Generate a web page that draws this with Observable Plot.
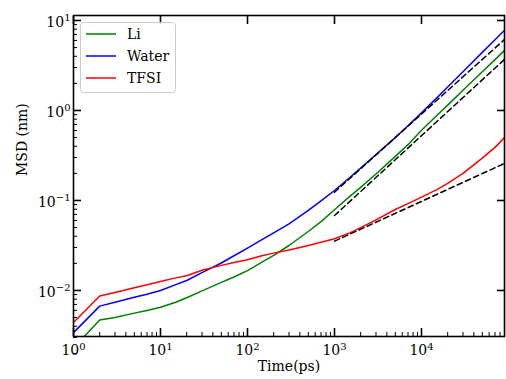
<!DOCTYPE html>
<html><head><meta charset="utf-8">
<script src="https://cdn.jsdelivr.net/npm/d3@7"></script>
<script src="https://cdn.jsdelivr.net/npm/@observablehq/plot@0.6"></script>
<style>body{margin:0;background:#fff;} #chart{width:506px;height:379px;}</style>
</head><body><div id="chart"></div>
<script>
// ---- data ----
const times = [1,2,3,5,7,10,15,20,30,50,70,100,150,200,300,500,700,1000,1500,2000,3000,5000,7000,10000,15000,20000,30000,50000,70000,90000];
const li    = [0.0023,0.0047,0.0050,0.0056,0.0060,0.0065,0.0074,0.0083,0.0099,0.0123,0.0141,0.0166,0.0209,0.0245,0.0316,0.0452,0.0582,0.079,0.111,0.140,0.197,0.309,0.417,0.603,0.881,1.148,1.679,2.69,3.67,4.65];
const water = [0.0034,0.0067,0.0074,0.0084,0.0091,0.0100,0.0116,0.0129,0.0158,0.0202,0.0243,0.0295,0.0372,0.0437,0.055,0.0776,0.099,0.129,0.18,0.229,0.324,0.50,0.676,0.94,1.38,1.82,2.69,4.42,6.1,7.8];
const tfsi  = [0.0044,0.0087,0.0095,0.0107,0.0116,0.0126,0.0138,0.0146,0.0168,0.0190,0.0204,0.0219,0.0245,0.026,0.0282,0.0316,0.0343,0.0376,0.0437,0.050,0.061,0.0794,0.0923,0.109,0.132,0.155,0.20,0.295,0.389,0.50];
const fitTimes = [1000, 90000];
const liFit    = [0.068, 3.69];
const waterFit = [0.1236, 6.15];
const tfsiFit  = [0.0353, 0.258];
const seriesNames = ["Li", "Water", "TFSI"];
const xMajorTicks = [1, 10, 100, 1000, 10000];
const yMajorTicks = [0.01, 0.1, 1, 10];
const xTitle = "Time(ps)";
const yTitle = "MSD (nm)";

// ---- build tables ----
const seriesVals = [li, water, tfsi];
const fitVals = [liFit, waterFit, tfsiFit];
const rows = [], fitRows = [];
seriesNames.forEach((s, i) => {
  times.forEach((t, j) => rows.push({t, v: seriesVals[i][j], s}));
  fitTimes.forEach((t, j) => fitRows.push({t, v: fitVals[i][j], s}));
});
const xMinor = [];
for (const d of [1, 10, 100, 1000, 10000]) for (let k = 2; k <= 9; k++) xMinor.push(k * d);
const yMinor = [];
for (const d of [0.001, 0.01, 0.1, 1]) for (let k = 2; k <= 9; k++) yMinor.push(+(k * d).toPrecision(3));
const colors = ["green", "blue", "red"];
const supFmt = d => "10^" + Math.round(Math.log10(d));

const FONT = "'DejaVu Serif', serif";
const plot = Plot.plot({
  width: 506, height: 379,
  marginLeft: 73, marginRight: 2, marginTop: 15, marginBottom: 43,
  style: {fontFamily: FONT, fontSize: "14px", background: "white", color: "black"},
  x: {type: "log", domain: [1, 90000], label: null},
  y: {type: "log", domain: [0.00308, 11.36], label: null},
  color: {domain: seriesNames, range: colors},
  marks: [
    Plot.line(rows, {x: "t", y: "v", z: "s", stroke: "s", strokeWidth: 1.5, clip: true}),
    Plot.line(fitRows, {x: "t", y: "v", z: "s", stroke: "black", strokeWidth: 1.5, strokeDasharray: "5.5,3.5", clip: true}),
    Plot.axisX(xMinor.filter(v => v <= 90000), {anchor: "bottom", tickSize: -4, strokeWidth: 1, fill: "none", label: null}),
    Plot.axisX(xMajorTicks, {anchor: "bottom", tickSize: -8, strokeWidth: 1.6, fill: "none", label: null}),
    Plot.axisX(xMajorTicks, {anchor: "top", tickSize: -8, strokeWidth: 1.6, fill: "none", label: null}),
    Plot.axisX(xMajorTicks, {anchor: "bottom", tickSize: 0, tickPadding: 9, fontSize: 14, tickFormat: supFmt, label: null}),
    Plot.axisY(yMinor, {anchor: "left", tickSize: -4, strokeWidth: 1, fill: "none", label: null}),
    Plot.axisY(yMajorTicks, {anchor: "left", tickSize: -8, strokeWidth: 1.6, fill: "none", label: null}),
    Plot.axisY(yMajorTicks, {anchor: "right", tickSize: -8, strokeWidth: 1.6, fill: "none", label: null}),
    Plot.axisY(yMajorTicks, {anchor: "left", tickSize: 0, tickPadding: 3, fontSize: 14, dy: 2, tickFormat: supFmt, label: null}),
    Plot.text([xTitle], {frameAnchor: "bottom", dy: 34, text: d => d, fontSize: 14}),
    Plot.text([yTitle], {frameAnchor: "left", rotate: -90, dx: -51, text: d => d, fontSize: 14}),
    Plot.frame({stroke: "black", strokeWidth: 1.6})
  ]
});
document.getElementById("chart").appendChild(plot);

// superscript exponents in tick labels
d3.select(plot).selectAll("text").each(function() {
  const txt = this.textContent;
  const m = /^10\^(-?\d+)$/.exec(txt);
  if (!m) return;
  const el = d3.select(this);
  el.text(null);
  el.append("tspan").text("10");
  el.append("tspan").attr("font-size", "10px").attr("dy", "-5.6").text(m[1].replace("-", "\u2212"));
});

// legend
const svg = d3.select(plot);
const lg = svg.append("g").attr("font-family", FONT).attr("font-size", 14).attr("text-anchor", "start");
lg.append("rect").attr("x", 80.5).attr("y", 22.5).attr("width", 95).attr("height", 70)
  .attr("rx", 3).attr("fill", "white").attr("fill-opacity", 0.8).attr("stroke", "#cccccc");
seriesNames.forEach((s, i) => {
  const cy = 34 + i * 22;
  lg.append("line").attr("x1", 86).attr("x2", 116).attr("y1", cy).attr("y2", cy)
    .attr("stroke", colors[i]).attr("stroke-width", 1.5);
  lg.append("text").attr("x", 127).attr("y", cy).attr("dy", "0.35em").attr("fill", "black")
    .attr("text-anchor", "start").text(s);
});
</script>
</body></html>
